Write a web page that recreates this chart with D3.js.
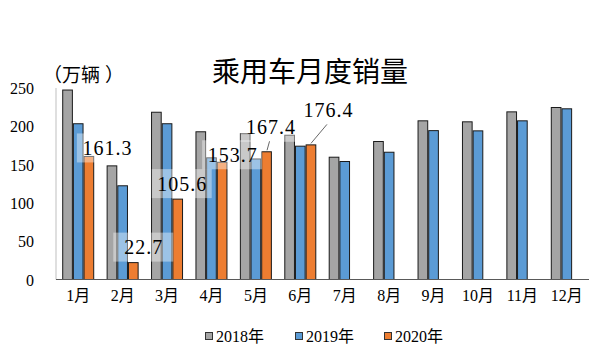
<!DOCTYPE html>
<html><head><meta charset="utf-8">
<script src="https://cdn.jsdelivr.net/npm/d3@7"></script>
<style>body{margin:0;background:#fff;}svg{display:block;}</style>
</head><body><svg id="c" width="610" height="360"></svg>
<script>
const months = ["1月","2月","3月","4月","5月","6月","7月","8月","9月","10月","11月","12月"];
const seriesNames = ["2018年","2019年","2020年"];
const s2018 = [248,149,219,193.5,191,189,160.3,180.8,207.8,206.5,219.5,225.2];
const s2019 = [204,123,204,159.5,158,174.7,154.7,166.8,195,194.7,207.8,223.5];
const s2020 = [161.3,22.7,105.6,153.7,167.4,176.4];
const yTicks = [0,50,100,150,200,250];
const colors = ["#A5A5A5","#5B9BD5","#ED7D31"];
// label offsets relative to top-centre of each 2020 bar (style/layout only)
const labelDx = [18,10,4,10,4,17];
const labelDy = [-8,-15,-15,-7,-24,-34];
const leader = [false,false,false,false,true,true];

const svg = d3.select("#c");
const serif = "'Liberation Serif','Noto Sans CJK SC',serif";
const x0 = d3.scaleBand().domain(months).range([56,589]).paddingInner(0).paddingOuter(0);
const groupW = 32;
const x1 = d3.scaleBand().domain(seriesNames).range([0,groupW]);
const y = d3.scaleLinear().domain([0,250]).range([279.5,88]);
const series = [s2018,s2019,s2020];

// axes
svg.append("line").attr("x1",56).attr("x2",56).attr("y1",y(250)).attr("y2",y(0)).attr("stroke","#bfbfbf").attr("stroke-width",1);
const yAxis = d3.axisLeft(y).tickValues(yTicks).tickSize(0).tickPadding(0);
const yg = svg.append("g").attr("transform","translate(34,0)").call(yAxis);
yg.select(".domain").remove();
yg.selectAll("text").attr("font-family",serif).attr("font-size",16).attr("fill","#000").attr("dy","0.35em");

// bars
series.forEach((vals,si)=>{
  svg.append("g").selectAll("rect").data(vals).join("rect")
    .attr("x",(d,i)=>x0(months[i])+(x0.bandwidth()-groupW)/2+x1(seriesNames[si])+0.5)
    .attr("y",d=>y(d)+0.5)
    .attr("width",x1.bandwidth()-1)
    .attr("height",d=>y(0)-y(d)-0.5)
    .attr("fill",colors[si]).attr("stroke","#1a1a1a").attr("stroke-width",1);
});

svg.append("line").attr("x1",56).attr("x2",589).attr("y1",y(0)).attr("y2",y(0)).attr("stroke","#595959").attr("stroke-width",1);

// x labels
const xAxis = d3.axisBottom(x0).tickSize(0).tickPadding(0);
const xg = svg.append("g").attr("transform",`translate(0,${y(0)})`).call(xAxis);
xg.select(".domain").remove();
xg.selectAll("text").attr("font-family",serif).attr("font-size",16).attr("fill","#000").attr("dy","1.35em");

// data labels for 2020
const lg = svg.append("g");
s2020.forEach((v,i)=>{
  const cx = x0(months[i])+(x0.bandwidth()-groupW)/2+x1(seriesNames[2])+x1.bandwidth()/2;
  const ty = y(v);
  const lx = cx+labelDx[i], ly = ty+labelDy[i];
  const g = lg.append("g");
  const w = 50, h = 29;
  g.append("rect").attr("x",lx-w/2-5).attr("y",ly-h/2).attr("width",w+10).attr("height",h)
    .attr("fill","#fff").attr("fill-opacity",0.4);
  g.append("text").attr("x",lx+0.5).attr("y",ly).attr("dy","0.35em").attr("text-anchor","middle")
    .attr("font-family",serif).attr("font-size",20).attr("letter-spacing","1px").attr("fill","#000")
    .text(v.toFixed(1));
  if(leader[i]){
    g.append("line").attr("x1",lx-1).attr("y1",ly+14).attr("x2",cx+(i===4?0.5:0)).attr("y2",ty-1)
      .attr("stroke","#404040").attr("stroke-width",0.8);
  }
});

// title and unit
svg.append("text").attr("x",310).attr("y",72).attr("dy","0.35em").attr("text-anchor","middle")
  .attr("font-family","'Noto Sans CJK SC',sans-serif").attr("font-size",28).attr("fill","#000").text("乘用车月度销量");
const unit = svg.append("text").attr("x",43).attr("y",75).attr("dy","0.35em")
  .attr("font-family","'Noto Sans CJK SC',sans-serif").attr("font-size",19).attr("fill","#000");
unit.append("tspan").text("（");
unit.append("tspan").text("万辆");
unit.append("tspan").attr("dx",5).text("）");

// legend
const legX = [205,295,384];
seriesNames.forEach((n,i)=>{
  svg.append("rect").attr("x",legX[i]+0.5).attr("y",332.5).attr("width",7).attr("height",7)
    .attr("fill",colors[i]).attr("stroke","#333").attr("stroke-width",1);
  svg.append("text").attr("x",legX[i]+11).attr("y",336.5).attr("dy","0.35em")
    .attr("font-family",serif).attr("font-size",16).attr("fill","#000").text(n);
});
</script></body></html>
